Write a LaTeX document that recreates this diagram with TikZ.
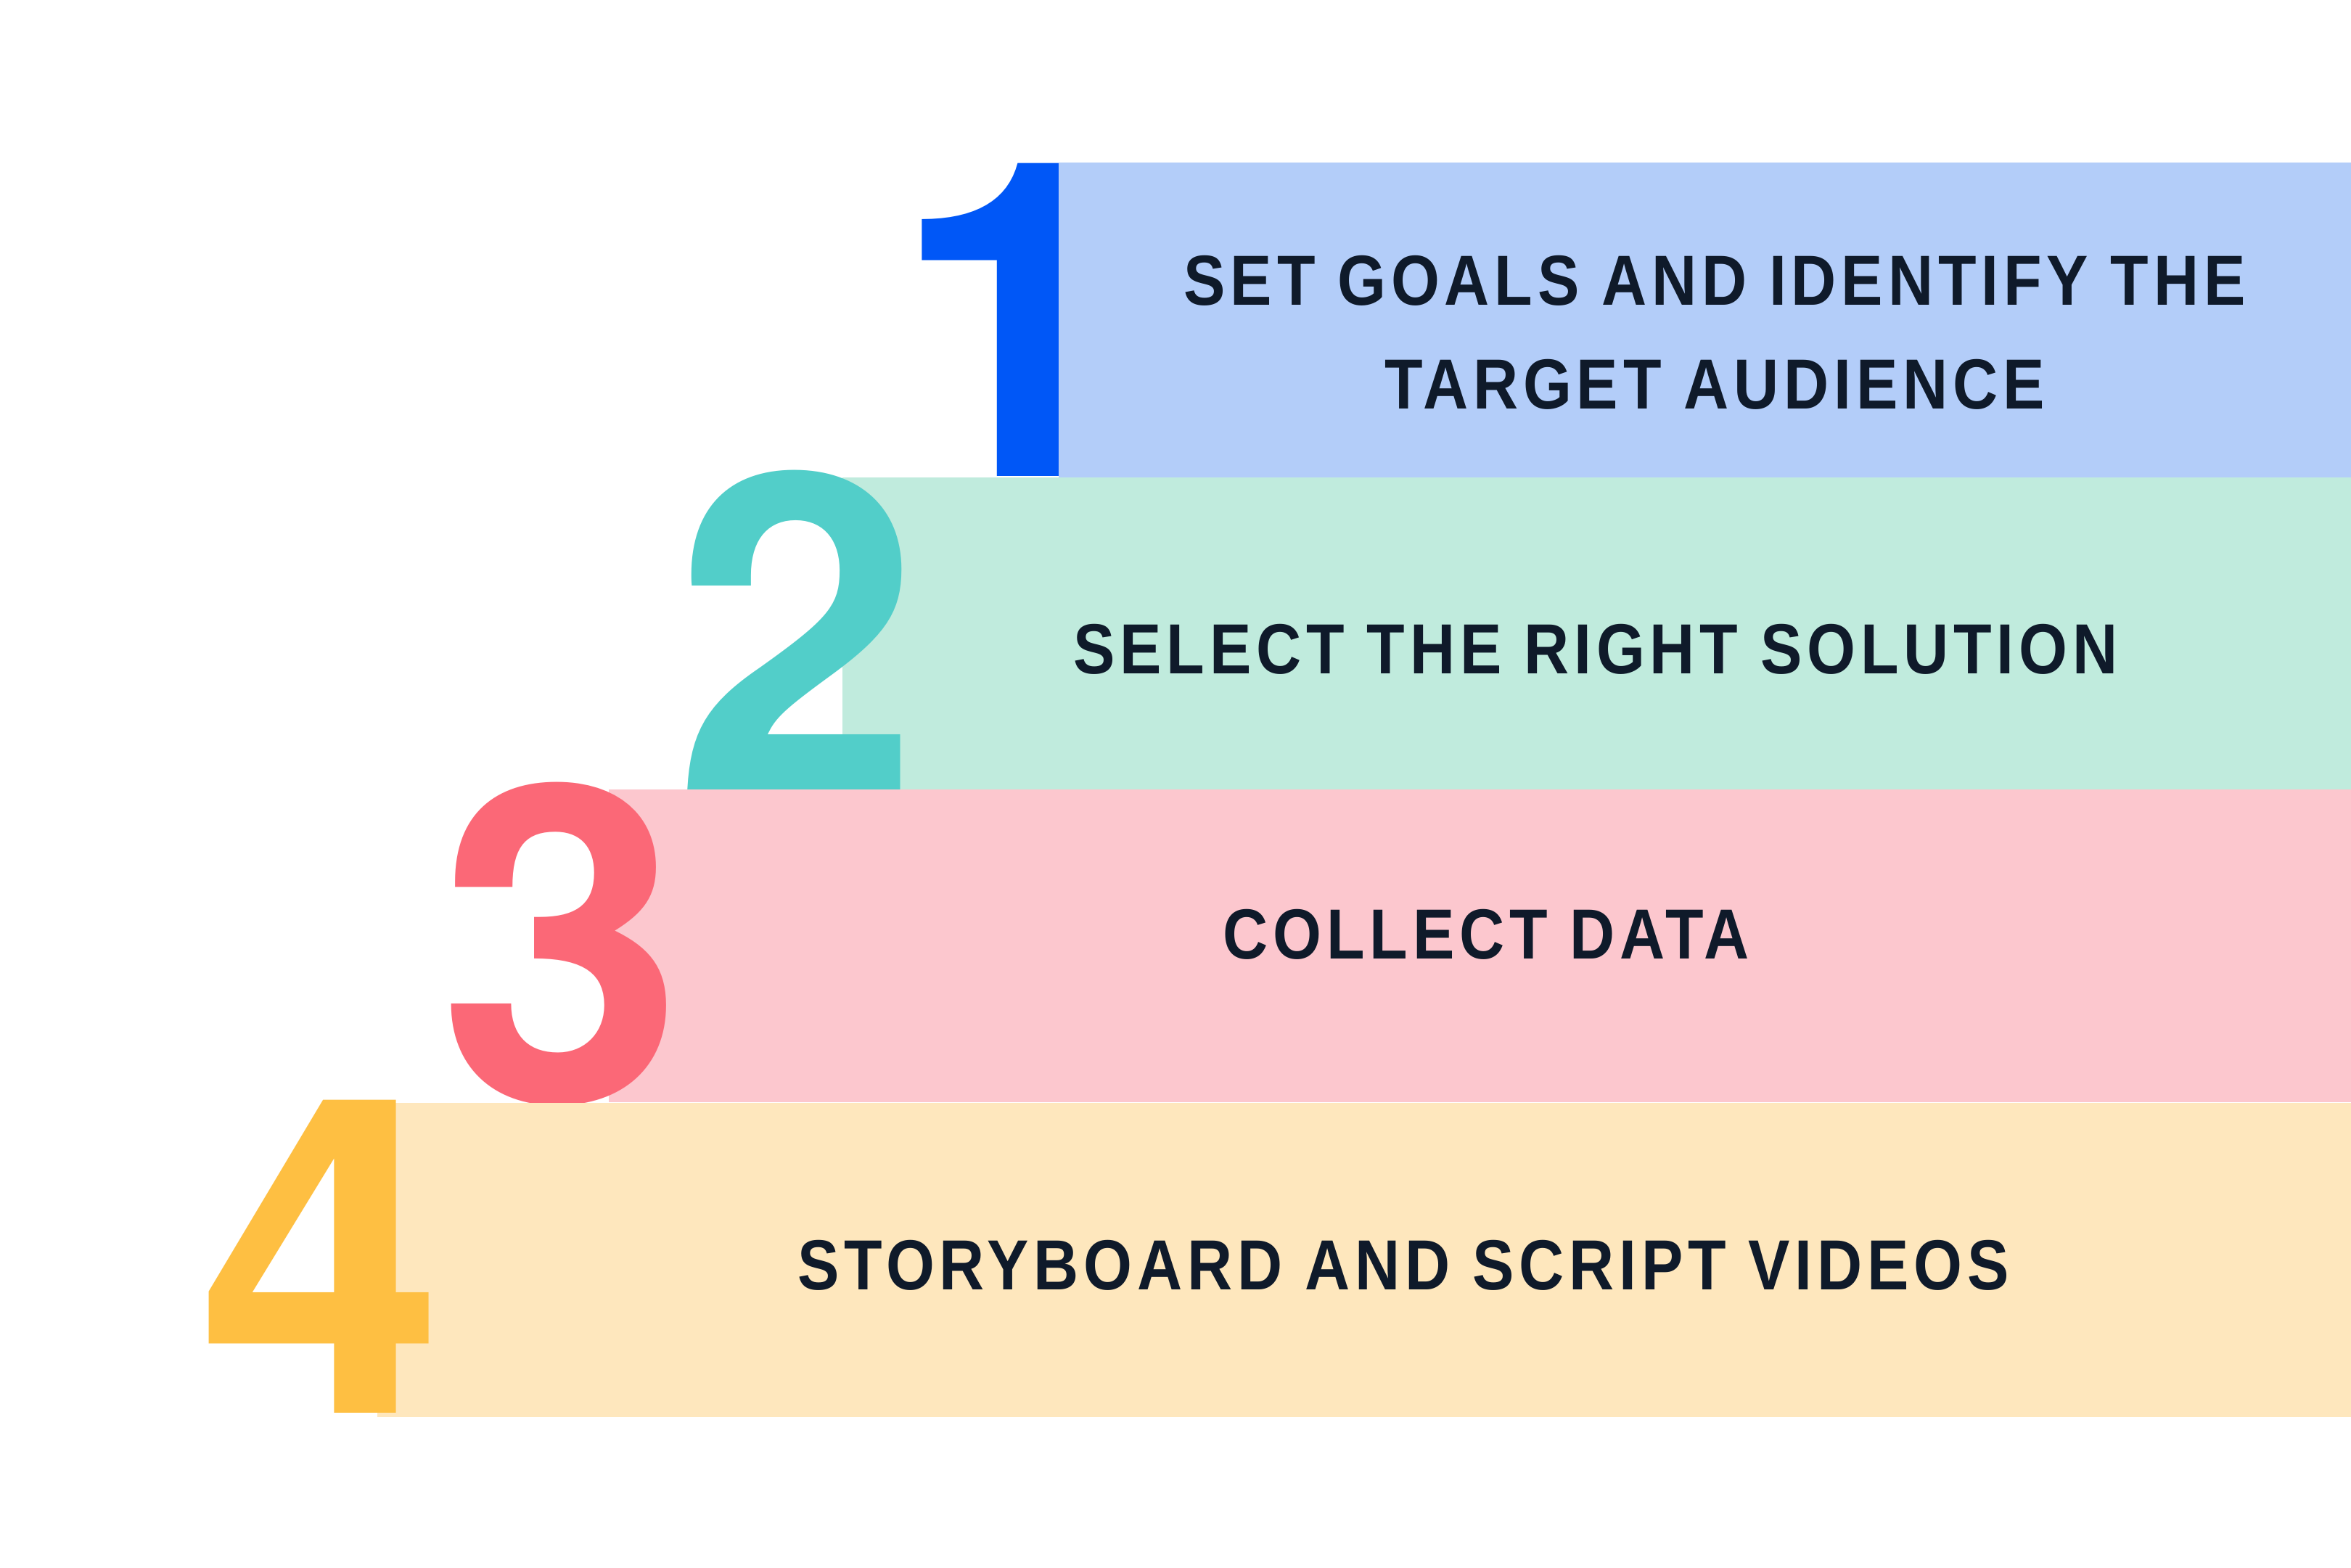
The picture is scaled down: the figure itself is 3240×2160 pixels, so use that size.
\documentclass[tikz,border=0pt]{standalone}
\usepackage{fontspec}
\setmainfont{Liberation Sans}
\newfontfamily\stepfont[FakeStretch=0.88,LetterSpace=7]{Liberation Sans}
\newfontfamily\digitfont{TeX Gyre Heros}
\usetikzlibrary{positioning}

\definecolor{bandblue}{HTML}{B3CDF9}
\definecolor{digitblue}{HTML}{0057F7}
\definecolor{bandgreen}{HTML}{C0EBDD}
\definecolor{digitgreen}{HTML}{52CEC9}
\definecolor{bandpink}{HTML}{FCC7CE}
\definecolor{digitpink}{HTML}{FB6877}
\definecolor{bandyellow}{HTML}{FEE7BD}
\definecolor{digityellow}{HTML}{FEBF42}
\definecolor{inkdark}{HTML}{0F1A2A}

\begin{document}
\begin{tikzpicture}[x=0.01cm, y=-0.01cm]
  % Styles
  \tikzstyle{band}=[rectangle, anchor=north west, inner sep=0pt, minimum height=4.33cm]
  \tikzstyle{digit}=[anchor=base east, inner sep=0pt, font=\digitfont\bfseries\fontsize{173}{173}\selectfont]
  \tikzstyle{steptext}=[inner sep=0pt, text=inkdark, align=center, font=\stepfont\bfseries\fontsize{27.8}{40.7}\selectfont]

  \useasboundingbox[fill=white] (0,0) rectangle (3240,2160);

  % Step 1
  \node[band, fill=bandblue, minimum width=17.82cm, minimum height=4.34cm] (band1) at (1458,223) {};
  \node[digit, text=digitblue] (num1) at (1568,656) {1};
  \node[steptext] (txt1) at (2363,458) {SET GOALS AND IDENTIFY THE\\TARGET AUDIENCE};

  % Step 2
  \node[band, fill=bandgreen, minimum width=20.80cm, minimum height=4.30cm] (band2) at (1160,657) {};
  \node[digit, text=digitgreen] (num2) at (1268,1088) {2};
  \node[steptext] (txt2) at (2199,895) {SELECT THE RIGHT SOLUTION};

  % Step 3
  \node[band, fill=bandpink, minimum width=24.02cm, minimum height=4.31cm] (band3) at (838,1087) {};
  \node[digit, text=digitpink] (num3) at (943,1518) {3};
  \node[steptext] (txt3) at (2048,1288) {COLLECT DATA};

  % Step 4
  \node[band, fill=bandyellow, minimum width=27.21cm] (band4) at (519,1519) {};
  \node[digit, text=digityellow] (num4) at (612,1947) {4};
  \node[steptext] (txt4) at (1934,1744) {STORYBOARD AND SCRIPT VIDEOS};
\end{tikzpicture}
\end{document}
